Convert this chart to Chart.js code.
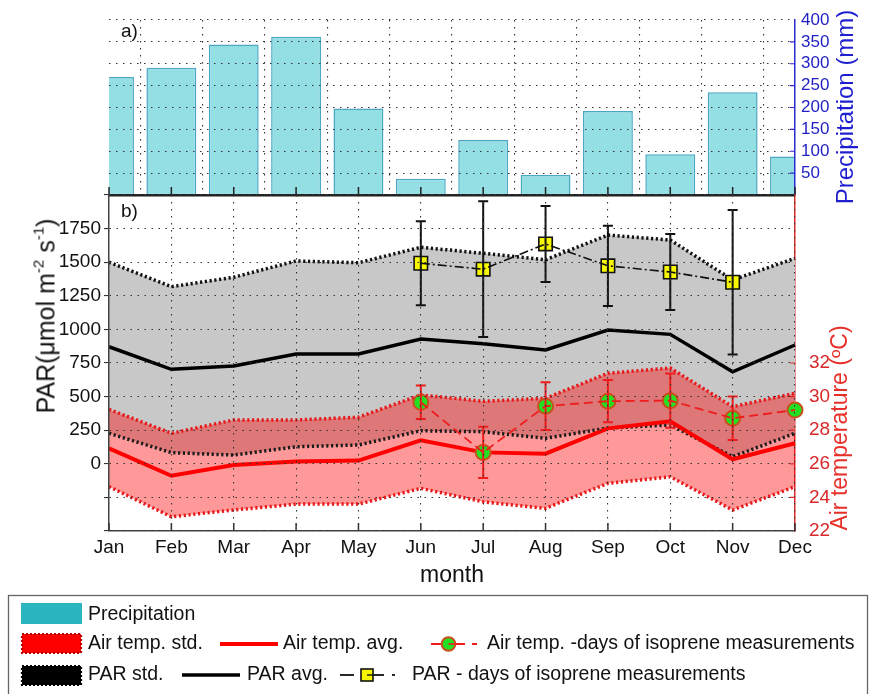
<!DOCTYPE html>
<html>
<head>
<meta charset="utf-8">
<script src="https://cdn.jsdelivr.net/npm/chart.js@4/dist/chart.umd.min.js"></script>
<style>
  html, body { margin: 0; padding: 0; background: #fff; }
  #wrap { position: relative; width: 869px; height: 694px; overflow: hidden;
          font-family: "Liberation Sans", Arial, sans-serif; }
  canvas { position: absolute; left: 0; top: 0; }
  .t { position: absolute; white-space: nowrap; line-height: 1; }
  .rot { transform: translate(-50%, -50%) rotate(-90deg); }
  .sup { font-size: 0.6em; vertical-align: 0.75em; line-height: 0; }
</style>
</head>
<body>
<div id="wrap">
  <canvas id="precipCanvas" width="869" height="694"></canvas>
  <canvas id="climateCanvas" width="869" height="694"></canvas>
  <canvas id="keyCanvas" width="869" height="694"></canvas>

  <div class="t" style="left:121px;top:21px;font-size:19px;color:#111">a)</div>
  <div class="t" style="left:121px;top:201px;font-size:19px;color:#111">b)</div>
  <div class="t rot" style="left:845px;top:107px;font-size:24px;color:#1f1fd0">Precipitation (mm)</div>
  <div class="t rot" style="left:839px;top:428px;font-size:23px;color:#e8302a">Air temperature (ºC)</div>
  <div class="t rot" style="left:46px;top:316px;font-size:25px;color:#111">PAR(μmol m<span class="sup">-2</span> s<span class="sup">-1</span>)</div>
  <div class="t" style="left:452px;top:563px;font-size:23px;color:#111;transform:translateX(-50%)">month</div>

  <div class="t" style="left:88px;top:603.5px;font-size:19.5px;color:#111">Precipitation</div>
  <div class="t" style="left:88px;top:633px;font-size:19.5px;color:#111">Air temp. std.</div>
  <div class="t" style="left:283px;top:633px;font-size:19.5px;color:#111">Air temp. avg.</div>
  <div class="t" style="left:487px;top:633px;font-size:19.5px;color:#111">Air temp. -days of isoprene measurements</div>
  <div class="t" style="left:88px;top:663.5px;font-size:19.5px;color:#111">PAR std.</div>
  <div class="t" style="left:247px;top:663.5px;font-size:19.5px;color:#111">PAR avg.</div>
  <div class="t" style="left:412px;top:663.5px;font-size:19.5px;color:#111">PAR - days of isoprene measurements</div>
</div>

<script>
// ---- monthly climate data ----
const months = ['Jan', 'Feb', 'Mar', 'Apr', 'May', 'Jun', 'Jul', 'Aug', 'Sep', 'Oct', 'Nov', 'Dec'];

// monthly precipitation (mm)
const precipitation = [270, 291, 344, 362, 198, 37, 126, 46, 192, 93, 235, 88];

// PAR (µmol m-2 s-1): average and the band of one standard deviation
const parAvg     = [871, 703, 728, 817, 817, 929, 893, 847, 995, 963, 685, 884];
const parStdHigh = [1500, 1318, 1388, 1509, 1496, 1611, 1566, 1518, 1702, 1665, 1368, 1529];
const parStdLow  = [227, 83, 65, 127, 140, 246, 239, 190, 266, 289, 53, 227];
// PAR on the days of isoprene measurements (mean and std)
const parDays    = [null, null, null, null, null, 1492, 1448, 1636, 1473, 1427, 1351, null];
const parDaysSd  = [null, null, null, null, null, 313, 505, 283, 299, 283, 537, null];

// air temperature (°C): average and the band of one standard deviation
const tempAvg     = [26.92, 25.29, 25.93, 26.13, 26.19, 27.4, 26.68, 26.6, 28.11, 28.53, 26.27, 27.22];
const tempStdHigh = [29.24, 27.82, 28.61, 28.61, 28.77, 30.1, 29.72, 29.9, 31.39, 31.7, 29.4, 30.2];
const tempStdLow  = [24.64, 22.85, 23.25, 23.6, 23.6, 24.54, 23.74, 23.35, 24.84, 25.23, 23.25, 24.64];
// air temperature on the days of isoprene measurements (mean and std)
const tempDays    = [null, null, null, null, null, 29.66, 26.68, 29.43, 29.73, 29.76, 28.71, 29.2];
const tempDaysSd  = [null, null, null, null, null, 1.0, 1.52, 1.42, 1.26, 1.61, 1.29, null];

// labelled ticks on each value axis
const precipTickLabels = [50, 100, 150, 200, 250, 300, 350, 400];
const parTickLabels    = [0, 250, 500, 750, 1000, 1250, 1500, 1750];
const tempTickLabels   = [22, 24, 26, 28, 30, 32];

// ---- shared styling ----
Chart.defaults.font.family = '"Liberation Sans", Arial, sans-serif';
Chart.defaults.color = '#111';
// grid drawn above the filled bands; the axis line shares that layer
// so it is positioned after the grid geometry is computed
const DOT_GRID = { z: 1, color: '#333', lineWidth: 1.1, drawTicks: false };
const DOT_DASH = [1.5, 5.5];

// short tick marks drawn inward from the plot edges
function innerTicks(specs) {
  return {
    id: 'innerTicks',
    afterDraw(chart) {
      const ctx = chart.ctx, a = chart.chartArea;
      specs.forEach(s => {
        const sc = chart.scales[s.axis];
        ctx.save();
        ctx.strokeStyle = s.color;
        ctx.lineWidth = s.width;
        ctx.beginPath();
        sc.ticks.forEach((t, i) => {
          if (s.only && !s.only.includes(t.value)) return;
          const p = sc.getPixelForTick(i);
          if (s.edge === 'bottom') { ctx.moveTo(p, a.bottom); ctx.lineTo(p, a.bottom - s.len); }
          else if (s.edge === 'right') {
            if (p < a.top + 1 || p > a.bottom - 1) return;
            ctx.moveTo(a.right, p); ctx.lineTo(a.right - s.len, p);
          }
        });
        ctx.stroke();
        ctx.restore();
      });
    }
  };
}

// vertical error bars with caps, positioned through the chart scales
const errorBarSets = [
  { values: parDays,  sd: parDaysSd,  axis: 'yPar',  color: '#111',    width: 2, cap: 5 },
  { values: tempDays, sd: tempDaysSd, axis: 'yTemp', color: '#ee1c1c', width: 2, cap: 5 }
];
const errorBars = {
  id: 'errorBars',
  afterDatasetsDraw(chart) {
    const ctx = chart.ctx, xs = chart.scales.x;
    errorBarSets.forEach(set => {
      const ys = chart.scales[set.axis];
      ctx.save();
      ctx.strokeStyle = set.color;
      ctx.lineWidth = set.width;
      ctx.beginPath();
      set.values.forEach((v, i) => {
        const sd = set.sd[i];
        if (v == null || sd == null) return;
        const px = xs.getPixelForValue(i);
        const hi = ys.getPixelForValue(v + sd);
        const lo = ys.getPixelForValue(v - sd);
        ctx.moveTo(px, hi); ctx.lineTo(px, lo);
        ctx.moveTo(px - set.cap, hi); ctx.lineTo(px + set.cap, hi);
        ctx.moveTo(px - set.cap, lo); ctx.lineTo(px + set.cap, lo);
      });
      ctx.stroke();
      ctx.restore();
    });
  }
};

// ---- a) precipitation bars ----
new Chart(document.getElementById('precipCanvas'), {
  type: 'bar',
  data: {
    labels: months,
    datasets: [{
      label: 'Precipitation',
      data: precipitation,
      yAxisID: 'yPrecip',
      backgroundColor: '#93dfe4',
      borderColor: '#4aa6c4',
      borderWidth: 1.5,
      barPercentage: 0.8,
      categoryPercentage: 1,
      clip: 0
    }]
  },
  options: {
    responsive: false,
    animation: false,
    devicePixelRatio: 1,
    events: [],
    layout: { padding: { left: 109, right: 0, top: 20, bottom: 499 } },
    plugins: { legend: { display: false }, tooltip: { enabled: false } },
    scales: {
      x: {
        offset: false,
        grid: DOT_GRID,
        border: { color: '#222', width: 2.5, dash: DOT_DASH, z: 1 },
        ticks: { display: false },
        afterFit: s => { s.height = 0; }
      },
      yPrecip: {
        position: 'right',
        min: 0, max: 400,
        grid: DOT_GRID,
        border: { color: '#2a2ad0', width: 1.5, dash: DOT_DASH, z: 1 },
        ticks: {
          stepSize: 50, autoSkip: false, padding: 6,
          color: '#2222c4', font: { size: 17 },
          callback: v => precipTickLabels.includes(v) ? String(v) : ''
        },
        afterFit: s => { s.width = 74; }
      }
    }
  },
  plugins: [innerTicks([
    { axis: 'x', edge: 'bottom', len: 8, color: '#222', width: 1.5 },
    { axis: 'yPrecip', edge: 'right', len: 5, color: '#2a2ad0', width: 1.2 }
  ])]
});

// ---- b) PAR and air temperature ----
const blackDots = [2.2, 2.6];
const redDots = [2.2, 2.6];
new Chart(document.getElementById('climateCanvas'), {
  type: 'line',
  data: {
    labels: months,
    datasets: [
      { label: 'PAR std.', data: parStdHigh, yAxisID: 'yPar', fill: 1,
        backgroundColor: '#c8c8c8', borderColor: '#111', borderWidth: 3.5, borderDash: blackDots,
        pointRadius: 0, tension: 0, order: 9 },
      { label: 'PAR std. low', data: parStdLow, yAxisID: 'yPar', fill: false,
        borderColor: '#1a1a1a', borderWidth: 3.5, borderDash: blackDots,
        pointRadius: 0, tension: 0, order: 5 },
      { label: 'PAR avg.', data: parAvg, yAxisID: 'yPar', fill: false,
        borderColor: '#000', borderWidth: 3.5, pointRadius: 0, tension: 0, order: 8 },
      { label: 'Air temp. std.', data: tempStdHigh, yAxisID: 'yTemp', fill: 4,
        backgroundColor: 'rgba(255,0,0,0.4)', borderColor: '#e8181a', borderWidth: 3.5, borderDash: redDots,
        pointRadius: 0, tension: 0, order: 7 },
      { label: 'Air temp. std. low', data: tempStdLow, yAxisID: 'yTemp', fill: false,
        borderColor: '#e8181a', borderWidth: 3.5, borderDash: redDots,
        pointRadius: 0, tension: 0, order: 6 },
      { label: 'Air temp. avg.', data: tempAvg, yAxisID: 'yTemp', fill: false,
        borderColor: '#ff0000', borderWidth: 4, pointRadius: 0, tension: 0, order: 4 },
      { label: 'PAR - days of isoprene measurements', data: parDays, yAxisID: 'yPar',
        showLine: false, pointStyle: 'rect', pointRadius: 9.5,
        pointBackgroundColor: '#f7f700', pointBorderColor: '#111', pointBorderWidth: 1.6,
        clip: false, order: 3 },
      { label: 'PAR days line', data: parDays, yAxisID: 'yPar', fill: false,
        borderColor: '#111', borderWidth: 1.6, borderDash: [9, 3, 2, 3],
        pointRadius: 0, tension: 0, order: 2 },
      { label: 'Air temp. -days of isoprene measurements', data: tempDays, yAxisID: 'yTemp',
        showLine: false, pointStyle: 'circle', pointRadius: 7.5,
        pointBackgroundColor: '#22e022', pointBorderColor: '#c8501e', pointBorderWidth: 2,
        clip: false, order: 1 },
      { label: 'Air temp. days line', data: tempDays, yAxisID: 'yTemp', fill: false,
        borderColor: '#ee1c1c', borderWidth: 1.8, borderDash: [9, 5],
        pointRadius: 0, tension: 0, order: 0 }
    ]
  },
  options: {
    responsive: false,
    animation: false,
    devicePixelRatio: 1,
    events: [],
    layout: { padding: { left: 0, right: 0, top: 195, bottom: 0 } },
    plugins: { legend: { display: false }, tooltip: { enabled: false } },
    scales: {
      x: {
        offset: false,
        grid: DOT_GRID,
        border: { color: '#444', width: 1.5, dash: DOT_DASH, z: 1 },
        ticks: { color: '#111', font: { size: 19 }, padding: 5, maxRotation: 0, autoSkip: false },
        afterFit: s => { s.height = 163; }
      },
      yPar: {
        position: 'left',
        min: -500, max: 2000,
        grid: { z: 1, color: '#333', lineWidth: 1.1, drawTicks: true, tickLength: 5, tickColor: '#333' },
        border: { color: '#444', width: 1.5, dash: DOT_DASH, z: 1 },
        ticks: {
          stepSize: 250, autoSkip: false, padding: 3,
          color: '#111', font: { size: 19 },
          callback: v => parTickLabels.includes(v) ? String(v) : ''
        },
        afterFit: s => { s.width = 109; }
      },
      yTemp: {
        position: 'right',
        min: 22, max: 42,
        grid: { display: false },
        border: { color: '#e02828', width: 1.5 },
        ticks: {
          stepSize: 2, autoSkip: false, padding: 6,
          color: '#d8282a', font: { size: 19 },
          callback: v => tempTickLabels.includes(v) ? String(v) : ''
        },
        afterFit: s => { s.width = 74; }
      }
    }
  },
  plugins: [errorBars, innerTicks([
    { axis: 'x', edge: 'bottom', len: 8, color: '#333', width: 1.5 },
    { axis: 'yTemp', edge: 'right', len: 5, color: '#e02828', width: 1.2, only: tempTickLabels }
  ])]
});

// ---- key symbols ----
(function drawKey() {
  const k = document.getElementById('keyCanvas').getContext('2d');
  // frame
  k.strokeStyle = '#666';
  k.lineWidth = 1.3;
  k.strokeRect(8.5, 595.5, 859, 140);

  // precipitation patch
  k.fillStyle = '#2bb5c0';
  k.fillRect(21, 603, 61, 21);

  // dotted-edge patches
  function dottedPatch(x, y, w, h, fill, edge) {
    k.fillStyle = fill;
    k.fillRect(x, y, w, h);
    k.save();
    k.setLineDash([2, 2]);
    k.strokeStyle = edge;
    k.lineWidth = 2.2;
    k.strokeRect(x, y, w, h);
    k.restore();
  }
  dottedPatch(22, 634, 59, 19, '#ff0000', '#b80000');
  dottedPatch(22, 666, 59, 19, '#000000', '#000000');

  function seg(x1, x2, y, color, w) {
    k.save();
    k.strokeStyle = color; k.lineWidth = w;
    k.beginPath(); k.moveTo(x1, y); k.lineTo(x2, y); k.stroke();
    k.restore();
  }
  // average lines
  seg(220, 278, 644, '#ff0000', 4);
  seg(182, 240, 675, '#000000', 3.5);

  // temperature measurement symbol
  seg(431, 441, 644, '#ee1c1c', 2);
  seg(456, 465, 644, '#ee1c1c', 2);
  seg(472, 477, 644, '#ee1c1c', 2);
  k.beginPath();
  k.arc(448.5, 644, 6.8, 0, Math.PI * 2);
  k.fillStyle = '#22e022'; k.fill();
  k.lineWidth = 2; k.strokeStyle = '#c8501e'; k.stroke();
  seg(448.5, 456, 644, '#ee1c1c', 1.6);

  // PAR measurement symbol
  seg(340, 354, 675, '#111', 1.8);
  seg(374, 384, 675, '#111', 1.8);
  seg(392, 395, 675, '#111', 1.8);
  k.fillStyle = '#f7f700';
  k.fillRect(361, 669, 12, 12);
  k.lineWidth = 1.6; k.strokeStyle = '#111';
  k.strokeRect(361, 669, 12, 12);
  seg(367, 374, 675, '#111', 1.4);
})();
</script>
</body>
</html>
